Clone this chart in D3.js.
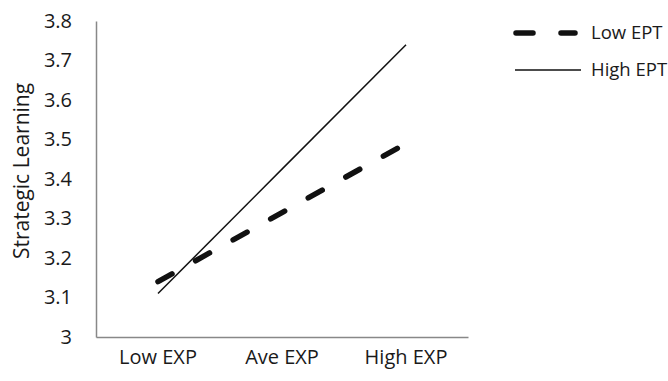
<!DOCTYPE html>
<html><head><meta charset="utf-8">
<script src="https://cdn.jsdelivr.net/npm/d3@7"></script>
<style>body{margin:0;background:#fff}svg{display:block}text{font-family:"Open Sans",sans-serif;fill:#1a1a1a}</style>
</head><body><svg id="c" width="668" height="381"></svg>
<script>
const categories = ["Low EXP", "Ave EXP", "High EXP"];
const lowEPT = [3.14, 3.315, 3.49];
const highEPT = [3.11, 3.425, 3.74];
const yTicks = [3, 3.1, 3.2, 3.3, 3.4, 3.5, 3.6, 3.7, 3.8];
const seriesNames = ["Low EPT", "High EPT"];

(function () {
const svg = d3.select("#c");
const mLeft = 96, mRight = 468, mTop = 21, mBottom = 337;
const x = d3.scaleBand().domain(categories).range([mLeft, mRight]);
const y = d3.scaleLinear().domain([3, 3.8]).range([mBottom, mTop]);
const fs = 20;

const ya = svg.append("g").attr("transform", `translate(${mLeft},0)`)
  .call(d3.axisLeft(y).tickValues(yTicks).tickSize(0).tickPadding(24).tickFormat(d => String(+d.toFixed(1))));
ya.select(".domain").attr("stroke", "#888").attr("stroke-width", 1.5);
ya.selectAll("text").style("font-size", fs + "px").attr("font-family", "Open Sans").attr("fill", "#1a1a1a");

const xa = svg.append("g").attr("transform", `translate(0,${mBottom})`)
  .call(d3.axisBottom(x).tickSize(0).tickPadding(13));
xa.select(".domain").attr("stroke", "#888").attr("stroke-width", 1.5);
xa.selectAll("text").style("font-size", fs + "px").attr("font-family", "Open Sans").attr("fill", "#1a1a1a");

svg.append("text").attr("transform", `translate(22,${(mTop + mBottom) / 2 - 8}) rotate(-90)`)
  .attr("text-anchor", "middle").attr("dy", "0.35em").style("font-size", "21px").text("Strategic Learning");

const line = d3.line().x((d, i) => x(categories[i]) + x.bandwidth() / 2).y(d => y(d));

svg.append("path").datum(highEPT).attr("d", line).attr("fill", "none")
  .attr("stroke", "#111").attr("stroke-width", 1.5);
svg.append("path").datum(lowEPT).attr("d", line).attr("fill", "none")
  .attr("stroke", "#111").attr("stroke-width", 5.5).attr("stroke-linecap", "round")
  .attr("stroke-dasharray", "16,27");

const lg = svg.append("g");
lg.append("line").attr("x1", 516).attr("x2", 575).attr("y1", 33).attr("y2", 33)
  .attr("stroke", "#111").attr("stroke-width", 5.5).attr("stroke-linecap", "round").attr("stroke-dasharray", "17,28");
lg.append("line").attr("x1", 515).attr("x2", 581).attr("y1", 70).attr("y2", 70)
  .attr("stroke", "#111").attr("stroke-width", 1.5);
lg.selectAll("text.lg").data(seriesNames).enter().append("text").attr("class", "lg")
  .attr("x", 591).attr("y", (d, i) => i ? 70 : 33).attr("dy", "0.35em")
  .style("font-size", "18.5px").text(d => d);
})();
</script></body></html>
